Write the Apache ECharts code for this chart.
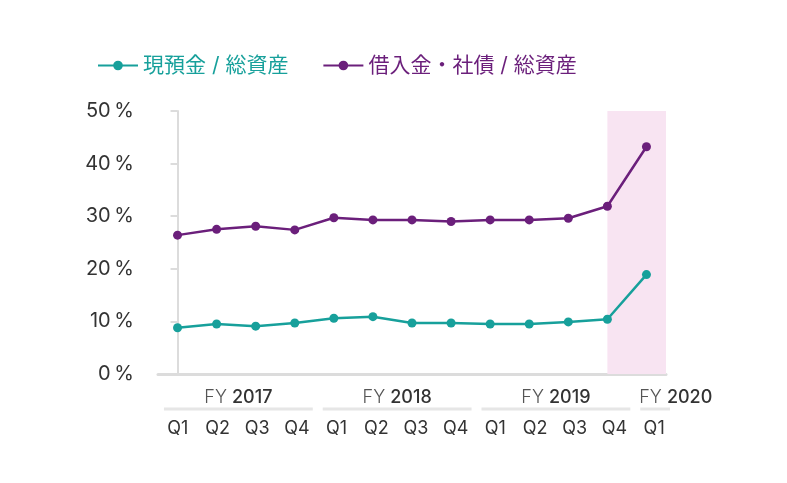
<!DOCTYPE html>
<html>
<head>
<meta charset="utf-8">
<script src="https://cdn.jsdelivr.net/npm/echarts@6/dist/echarts.min.js"></script>
<style>
html,body{margin:0;padding:0;background:#fff;}
#chart{width:787px;height:483px;}
</style>
</head>
<body>
<div id="chart"></div>
<script>
// ---- data ----
const quarters = ['Q1','Q2','Q3','Q4','Q1','Q2','Q3','Q4','Q1','Q2','Q3','Q4','Q1'];
const fiscalYears = ['2017','2018','2019','2020'];
const fyQuarterCounts = [4, 4, 4, 1];
const seriesNames = ['現預金 / 総資産', '借入金・社債 / 総資産'];
const cashRatio = [8.8, 9.5, 9.1, 9.7, 10.6, 10.9, 9.7, 9.7, 9.5, 9.5, 9.9, 10.4, 18.9];
const debtRatio = [26.4, 27.5, 28.1, 27.4, 29.7, 29.3, 29.3, 29.0, 29.3, 29.3, 29.6, 31.9, 43.2];
const yMin = 0, yMax = 50, yStep = 10;
const highlightFromIndex = 11; // FY2019 Q4 onward

// ---- derived ----
const colors = ['#17a09b', '#6b1f7b'];
const n = quarters.length;
const toPairs = arr => arr.map((v, i) => [i, v]);
const groups = [];
let s = 0;
fyQuarterCounts.forEach((c, k) => { groups.push([s, s + c - 1, k]); s += c; });

const latin = 'Inter, "Noto Sans", sans-serif';
const cjk = 'Inter, "Noto Sans CJK JP", sans-serif';

const chart = echarts.init(document.getElementById('chart'), null, {renderer: 'canvas'});
chart.setOption({
  animation: false,
  legend: {
    left: 92, top: 50,
    itemWidth: 40, itemHeight: 12, itemGap: 34,
    textStyle: {fontSize: 21, fontFamily: cjk},
    data: seriesNames.map((nm, i) => ({name: nm, textStyle: {color: colors[i]}}))
  },
  grid: [
    {left: 158, right: 121, top: 111, bottom: 109},
    {left: 158, right: 113, top: 384, height: 25}
  ],
  xAxis: [
    {gridIndex: 0, type: 'value', min: -0.5, max: n - 0.5,
     axisLine: {show: true, lineStyle: {color: '#dcdcdc', width: 3}},
     axisTick: {show: false}, axisLabel: {show: false}, splitLine: {show: false}},
    {gridIndex: 1, type: 'category', data: quarters, boundaryGap: true,
     axisLine: {show: false}, axisTick: {show: false},
     axisLabel: {interval: 0, margin: 11, fontSize: 18, color: '#333', fontFamily: latin}},
    {gridIndex: 1, type: 'value', min: -0.5, max: n - 0.5, show: false}
  ],
  yAxis: [
    {gridIndex: 0, type: 'value', min: yMin, max: yMax, interval: yStep,
     axisLine: {show: true, lineStyle: {color: '#dcdcdc', width: 2}},
     axisTick: {show: true, length: 7, lineStyle: {color: '#dcdcdc', width: 2}},
     splitLine: {show: false},
     axisLabel: {margin: 24, fontSize: 20, color: '#333', fontFamily: latin,
                 formatter: v => v + '\u2009%'}},
    {gridIndex: 1, type: 'value', min: 0, max: 1, show: false}
  ],
  series: [
    {name: seriesNames[0], type: 'line', xAxisIndex: 0, yAxisIndex: 0,
     data: toPairs(cashRatio), color: colors[0],
     symbol: 'circle', symbolSize: 9, lineStyle: {width: 2.5},
     markArea: {silent: true, itemStyle: {color: '#f8e4f2'},
       data: [[{xAxis: highlightFromIndex}, {xAxis: n - 0.5}]]},
     z: 3},
    {name: seriesNames[1], type: 'line', xAxisIndex: 0, yAxisIndex: 0,
     data: toPairs(debtRatio), color: colors[1],
     symbol: 'circle', symbolSize: 9, lineStyle: {width: 2.5}, z: 3},
    {type: 'custom', xAxisIndex: 2, yAxisIndex: 1, data: groups, silent: true,
     renderItem: function (params, api) {
       const a = api.value(0), b = api.value(1), k = api.value(2);
       const p0 = api.coord([a - 0.35, 0]);
       const p1 = api.coord([b + 0.4, 0]);
       const pm = api.coord([(a - 0.35 + b + 0.4) / 2, 0.5]);
       const single = a === b;
       return {type: 'group', children: [
         {type: 'line', shape: {x1: p0[0], y1: p0[1], x2: p1[0], y2: p1[1]},
          style: {stroke: '#e6e6e6', lineWidth: 3}},
         {type: 'text', x: single ? p0[0] - 1 : pm[0], y: pm[1] + 1,
          style: {text: '{a|FY }{b|' + fiscalYears[k] + '}',
                  align: single ? 'left' : 'center', verticalAlign: 'middle',
                  rich: {a: {fontSize: 18, fontFamily: latin, fill: '#555', fontWeight: 300},
                         b: {fontSize: 18, fontFamily: latin, fill: '#333', fontWeight: 500}}}}
       ]};
     }}
  ]
});
</script>
</body>
</html>
